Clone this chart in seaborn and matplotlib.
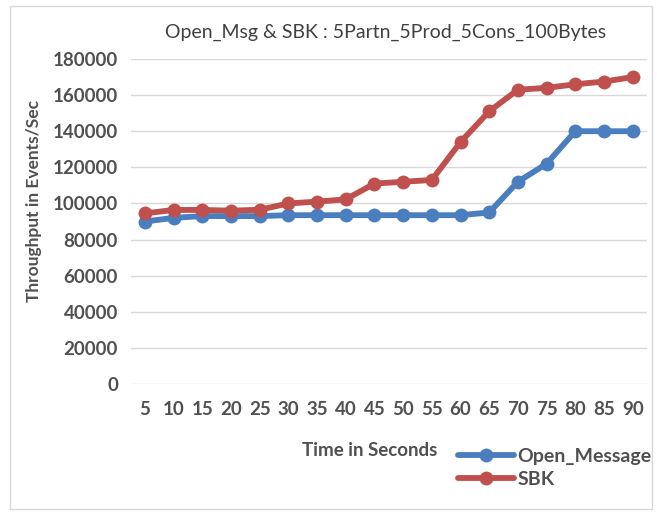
import matplotlib
matplotlib.use("Agg")
import matplotlib.pyplot as plt
import seaborn as sns
import pandas as pd
from matplotlib.patches import Rectangle
from matplotlib.lines import Line2D

time_s = [5, 10, 15, 20, 25, 30, 35, 40, 45, 50, 55, 60, 65, 70, 75, 80, 85, 90]
open_message = [90000, 92000, 93000, 93000, 93000, 93500, 93500, 93500, 93500, 93500,
                93500, 93500, 95000, 112000, 122000, 140000, 140000, 140000]
sbk = [94500, 96400, 96400, 96000, 96500, 100000, 101000, 102300, 111000, 112000,
       113000, 134000, 151000, 163000, 164000, 166000, 167500, 170000]
series_names = ["Open_Message", "SBK"]
yticks = list(range(0, 180001, 20000))

df = pd.concat([
    pd.DataFrame({"Time": time_s, "Throughput": open_message, "Series": series_names[0]}),
    pd.DataFrame({"Time": time_s, "Throughput": sbk, "Series": series_names[1]}),
])

sns.set_theme(style="white")
plt.rcParams["font.family"] = ["Lato", "DejaVu Sans"]

fig = plt.figure(figsize=(6.57, 5.13), dpi=100)
ax = fig.add_axes([130.6 / 657, 1 - 384 / 513, (647 - 130.6) / 657, (384 - 59) / 513])

fig.patches.append(Rectangle((10 / 657, 4 / 513), 642 / 657, 503 / 513,
                             transform=fig.transFigure, fill=False,
                             edgecolor="#d9d9d9", linewidth=1.0))

palette = {"Open_Message": "#4a7ebf", "SBK": "#c0504d"}
sns.lineplot(data=df, x="Time", y="Throughput", hue="Series", palette=palette,
             marker="o", markersize=10, linewidth=4.2, markeredgewidth=0,
             ax=ax, legend=False, sort=False)

ax.set_xlim(2.5, 92.5)
ax.set_ylim(0, 180000)
ax.set_yticks(yticks)
ax.set_xticks(time_s)
ax.set_yticklabels([str(v) for v in yticks])
ax.set_xticklabels([str(v) for v in time_s])
ax.grid(axis="y", color="#d9d9d9", linewidth=1.0)
ax.grid(axis="x", visible=False)
for s in ax.spines.values():
    s.set_visible(False)
ax.tick_params(axis="y", length=0, pad=9, labelsize=13.5, labelcolor="#505050")
ax.tick_params(axis="x", length=0, pad=12, labelsize=13.5, labelcolor="#505050")
for lab in ax.get_xticklabels() + ax.get_yticklabels():
    lab.set_fontweight("bold")

ax.set_xlabel("")
ax.set_ylabel("")
fig.text(34 / 657, 1 - 201 / 513, "Throughput in Events/Sec", rotation=90,
         ha="center", va="center", fontsize=12.5, fontweight="bold", color="#505050")
fig.text(370 / 657, 1 - 450 / 513, "Time in Seconds", ha="center", va="center",
         fontsize=13.5, fontweight="bold", color="#505050")
fig.text(386 / 657, 1 - 32 / 513, "Open_Msg & SBK : 5Partn_5Prod_5Cons_100Bytes",
         ha="center", va="center", fontsize=14, color="#404040")

handles = [Line2D([0], [0], color=palette[n], marker="o", markersize=10, linewidth=4.2,
                  markeredgewidth=0) for n in series_names]
leg = fig.legend(handles, series_names, loc="upper left",
                 bbox_to_anchor=(452 / 657, 1 - 442 / 513), frameon=False,
                 handlelength=2.9, handletextpad=0.15, labelspacing=0.32,
                 borderaxespad=0, borderpad=0.3,
                 prop={"size": 14, "weight": "bold"})
for t in leg.get_texts():
    t.set_color("#505050")

fig.savefig("out.png", dpi=100)
